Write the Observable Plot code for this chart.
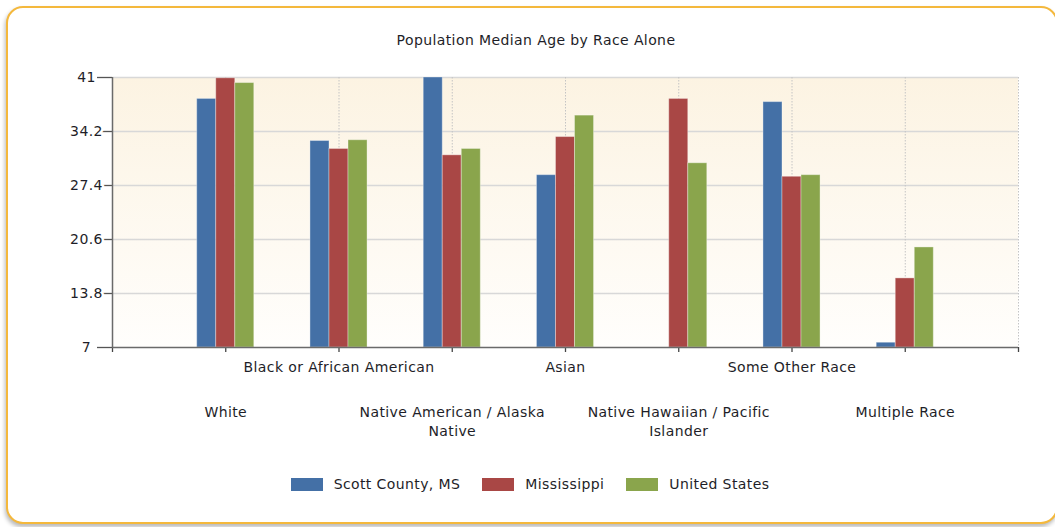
<!DOCTYPE html>
<html>
<head>
<meta charset="utf-8">
<script src="https://cdn.jsdelivr.net/npm/d3@7"></script>
<script src="https://cdn.jsdelivr.net/npm/@observablehq/plot@0.6"></script>
<style>
  html, body { margin: 0; padding: 0; background: #ffffff; overflow: hidden; }
  #page { position: relative; width: 1055px; height: 527px; overflow: hidden; font-family: "DejaVu Sans", sans-serif; color: #1e1e28; }
  #card { position: absolute; left: 6px; top: 6px; width: 1048px; height: 514px; border: 2px solid #f4b83c; border-radius: 17px; box-shadow: -1px 3px 4px rgba(0,0,0,0.28); background: #fff; }
  #title { position: absolute; left: 0; top: 31px; width: 1072px; text-align: center; font-size: 14px; letter-spacing: 0.4px; line-height: 18px; }
  #chart { position: absolute; left: 0; top: 60px; }
  #legend { position: absolute; left: 0; top: 476px; width: 1060px; display: flex; justify-content: center; align-items: center; font-size: 14px; letter-spacing: 0.4px; }
  .item { display: flex; align-items: center; margin-right: 22px; }
  .item:last-child { margin-right: 0; }
  .sw { width: 32px; height: 13px; margin-right: 11px; }
</style>
</head>
<body>
<div id="page">
  <div id="card"></div>
  <div id="title">Population Median Age by Race Alone</div>
  <div id="chart"></div>
  <div id="legend"></div>
</div>
<script>
const categories = ["White", "Black or African American", "Native American / Alaska Native", "Asian", "Native Hawaiian / Pacific Islander", "Some Other Race", "Multiple Race"];
const seriesNames = ["Scott County, MS", "Mississippi", "United States"];
const scottCounty = [38.3, 33.0, 41.0, 28.7, null, 37.9, 7.6];
const mississippi = [40.9, 32.0, 31.2, 33.5, 38.3, 28.5, 15.7];
const unitedStates = [40.3, 33.1, 32.0, 36.2, 30.2, 28.7, 19.6];
const yTicks = [7, 13.8, 20.6, 27.4, 34.2, 41];
const yTickLabels = ["7", "13.8", "20.6", "27.4", "34.2", "41"];
const colors = ["#4470a6", "#a94745", "#8aa54c"];

const seriesValues = [scottCounty, mississippi, unitedStates];
const barWidth = 0.168; // width of one bar in category-step units
const barData = [];
categories.forEach((c, i) => {
  seriesValues.forEach((vals, s) => {
    barData.push({category: c, series: seriesNames[s], pos: i + 1, s, value: vals[i]});
  });
});

function background(index, scales, values, dims) {
  const {width, height, marginLeft, marginRight, marginTop, marginBottom} = dims;
  const g = d3.create("svg:g");
  const grad = g.append("defs").append("linearGradient")
    .attr("id", "plotbg").attr("x1", 0).attr("y1", 0).attr("x2", 0).attr("y2", 1);
  grad.append("stop").attr("offset", 0).attr("stop-color", "#fcf3e2");
  grad.append("stop").attr("offset", 1).attr("stop-color", "#fffefc");
  g.append("rect")
    .attr("x", marginLeft).attr("y", marginTop)
    .attr("width", width - marginLeft - marginRight)
    .attr("height", height - marginTop - marginBottom)
    .attr("fill", "url(#plotbg)");
  return g.node();
}

const chart = Plot.plot({
  width: 1055,
  height: 390,
  marginLeft: 112,
  marginRight: 37,
  marginTop: 17,
  marginBottom: 103,
  style: {fontFamily: "DejaVu Sans, sans-serif", fontSize: "14px", background: "transparent", overflow: "visible"},
  x: {domain: [0, categories.length + 1], axis: null},
  y: {domain: [yTicks[0], yTicks[yTicks.length - 1]], axis: null},
  color: {domain: seriesNames, range: colors},
  marks: [
    background,
    Plot.ruleY(yTicks.slice(1), {stroke: "#d8d8d8", strokeWidth: 1.6}),
    Plot.ruleX(d3.range(1, categories.length + 2), {stroke: "#c4c4c4", strokeWidth: 1, strokeDasharray: "1.5,1.5"}),
    Plot.rectY(barData, {
      x1: d => d.pos + (d.s - 1.5) * barWidth,
      x2: d => d.pos + (d.s - 0.5) * barWidth,
      y1: () => yTicks[0],
      y2: "value",
      fill: "series",
      stroke: "#ffffff",
      strokeOpacity: 0.35,
      strokeWidth: 1
    }),
    Plot.axisX({ticks: d3.range(0, categories.length + 2), tickFormat: () => "", tickSize: 5, stroke: "#444", strokeWidth: 1.3, label: null}),
    Plot.axisY({ticks: yTicks, tickFormat: () => "", tickSize: 15, stroke: "#555", strokeWidth: 1.3, label: null}),
    Plot.ruleX([0], {stroke: "#6a6a6a", strokeWidth: 1.5}),
    Plot.ruleY([yTicks[0]], {stroke: "#6a6a6a", strokeWidth: 1.5}),
    Plot.text(yTicks, {
      y: d => d, text: (d, i) => yTickLabels[i], frameAnchor: "left", dx: -26,
      textAnchor: "middle", fill: "#1e1e28", stroke: "white", strokeWidth: 5, fontSize: 14
    }),
    Plot.text(categories, {
      x: (d, i) => i + 1, text: d => d, filter: (d, i) => i % 2 === 1,
      frameAnchor: "bottom", dy: 20, lineAnchor: "middle", fill: "#1e1e28", fontSize: 14
    }),
    Plot.text(categories, {
      x: (d, i) => i + 1, text: d => d, filter: (d, i) => i % 2 === 0,
      frameAnchor: "bottom", dy: 56, lineAnchor: "top", lineWidth: 12.5, lineHeight: 1.36,
      fill: "#1e1e28", fontSize: 14
    })
  ]
});
chart.style.letterSpacing = "0.4px";
document.getElementById("chart").appendChild(chart);

const legend = d3.select("#legend");
seriesNames.forEach((name, i) => {
  const item = legend.append("div").attr("class", "item");
  item.append("div").attr("class", "sw").style("background", colors[i]);
  item.append("span").text(name);
});
</script>
</body>
</html>
